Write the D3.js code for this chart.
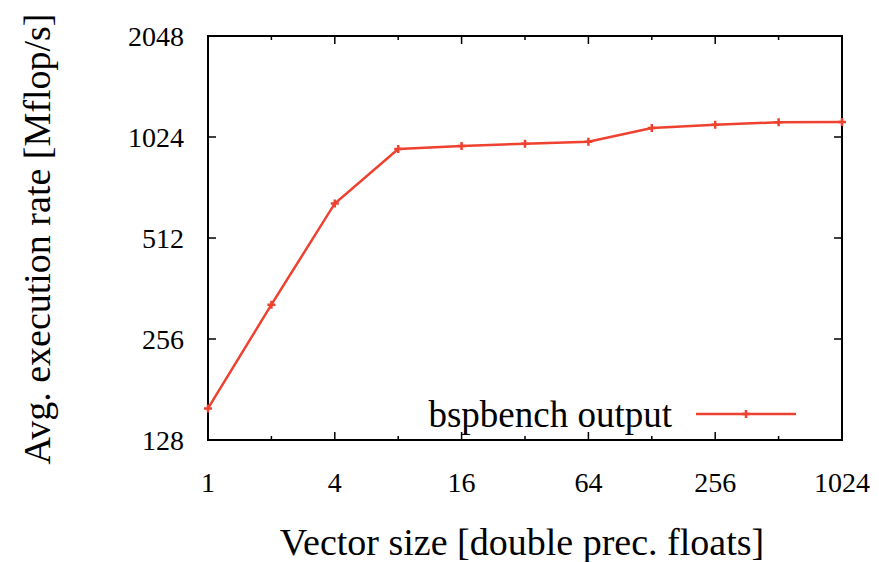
<!DOCTYPE html>
<html>
<head>
<meta charset="utf-8">
<title>bspbench</title>
<script src="https://cdn.jsdelivr.net/npm/d3@7/dist/d3.min.js"></script>
<style>
body { margin: 0; background: #fff; }
svg text { font-family: "Liberation Serif", "DejaVu Serif", serif; fill: #000; }
.tick-label { font-size: 28px; }
.title { font-size: 38px; }
</style>
</head>
<body>
<script>
// data
var vectorSizes = [1, 2, 4, 8, 16, 32, 64, 128, 256, 512, 1024];
var rates = [159, 324, 649, 943, 963, 978, 991, 1089, 1114, 1133, 1135];
var xTicks = [1, 2, 4, 8, 16, 32, 64, 128, 256, 512, 1024];
var xLabels = [1, 4, 16, 64, 256, 1024];
var yTicks = [128, 256, 512, 1024, 2048];
var seriesName = "bspbench output";

var w = 879, h = 562;
var pLeft = 208, pRight = 842, pTop = 36, pBottom = 440;
var red = "#ee4130";

var svg = d3.select("body").append("svg")
    .attr("width", w)
    .attr("height", h);

var x = d3.scaleLog().base(2).domain([1, 1024]).range([pLeft, pRight]);
var y = d3.scaleLog().base(2).domain([128, 2048]).range([pBottom, pTop]);

// ticks inside the frame on all four sides (gnuplot style), labelled ones longer
var g = svg.append("g").attr("stroke", "#000").attr("stroke-width", 1.5);
xTicks.forEach(function(t) {
    var tl = xLabels.indexOf(t) >= 0 ? 8 : 4;
    g.append("line").attr("x1", x(t)).attr("x2", x(t)).attr("y1", pBottom).attr("y2", pBottom - tl);
    g.append("line").attr("x1", x(t)).attr("x2", x(t)).attr("y1", pTop).attr("y2", pTop + tl);
});
yTicks.forEach(function(t) {
    g.append("line").attr("x1", pLeft).attr("x2", pLeft + 8).attr("y1", y(t)).attr("y2", y(t));
    g.append("line").attr("x1", pRight).attr("x2", pRight - 8).attr("y1", y(t)).attr("y2", y(t));
});

// frame
svg.append("rect")
    .attr("x", pLeft).attr("y", pTop)
    .attr("width", pRight - pLeft).attr("height", pBottom - pTop)
    .attr("fill", "none").attr("stroke", "#000").attr("stroke-width", 2);

// tick labels
svg.selectAll(".xl").data(xLabels).enter().append("text")
    .attr("class", "tick-label")
    .attr("x", function(d) { return x(d); })
    .attr("y", 492)
    .attr("text-anchor", "middle")
    .text(function(d) { return d; });

svg.selectAll(".yl").data(yTicks).enter().append("text")
    .attr("class", "tick-label")
    .attr("x", 184)
    .attr("y", function(d) { return y(d) + 9.5; })
    .attr("text-anchor", "end")
    .text(function(d) { return d; });

// axis titles
svg.append("text").attr("class", "title")
    .attr("x", 522).attr("y", 555)
    .attr("text-anchor", "middle")
    .text("Vector size [double prec. floats]");

svg.append("text").attr("class", "title")
    .attr("transform", "translate(50,239) rotate(-90)")
    .attr("text-anchor", "middle")
    .text("Avg. execution rate [Mflop/s]");

// series
var line = d3.line()
    .x(function(d, i) { return x(vectorSizes[i]); })
    .y(function(d) { return y(d); });

svg.append("path")
    .attr("d", line(rates))
    .attr("fill", "none")
    .attr("stroke", red)
    .attr("stroke-width", 2.5);

var m = 4;
function plus(px, py) {
    svg.append("path")
        .attr("d", "M" + (px - m) + "," + py + "H" + (px + m) + "M" + px + "," + (py - m) + "V" + (py + m))
        .attr("stroke", red).attr("stroke-width", 2.5).attr("fill", "none");
}
rates.forEach(function(d, i) { plus(x(vectorSizes[i]), y(d)); });

// legend
svg.append("text")
    .attr("x", 672).attr("y", 427)
    .attr("text-anchor", "end")
    .style("font-size", "37px")
    .text(seriesName);
svg.append("line")
    .attr("x1", 696).attr("x2", 796).attr("y1", 414).attr("y2", 414)
    .attr("stroke", red).attr("stroke-width", 2.5);
plus(746, 414);
</script>
</body>
</html>
